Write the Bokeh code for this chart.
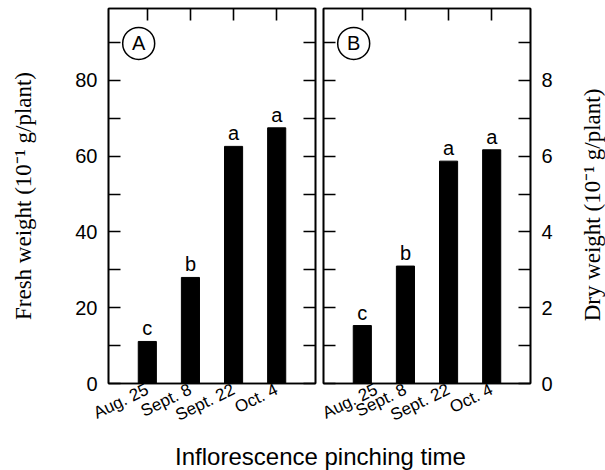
import math
from bokeh.plotting import figure
from bokeh.models import LinearAxis, FixedTicker, Range1d, ColumnDataSource, Label
from bokeh.layouts import column, row
from bokeh.embed import file_html
from bokeh.resources import INLINE
from bokeh.core.properties import value

# ---- data ----
dates = ["Aug. 25", "Sept. 8", "Sept. 22", "Oct. 4"]
fresh_weight = [11.1, 28.0, 62.6, 67.5]      # 10^-1 g/plant
dry_weight = [1.53, 3.10, 5.87, 6.17]        # 10^-1 g/plant
fresh_letters = ["c", "b", "a", "a"]
dry_letters = ["c", "b", "a", "a"]
fresh_ticks = [0, 10, 20, 30, 40, 50, 60, 70, 80, 90]
fresh_tick_labels = ["0", "", "20", "", "40", "", "60", "", "80", ""]
dry_ticks = [0, 1, 2, 3, 4, 5, 6, 7, 8, 9]
dry_tick_labels = ["0", "", "2", "", "4", "", "6", "", "8", ""]

SANS = "Liberation Sans"
SERIF = "Liberation Serif"
positions = [1, 2, 3, 4]
ROW_H = 8 + 375 + 47


def style_axis(ax, tick_in=12, labels=True):
    ax.axis_line_color = "black"
    ax.axis_line_width = 1.6
    ax.major_tick_line_color = "black"
    ax.major_tick_line_width = 1.6
    ax.major_tick_in = tick_in
    ax.major_tick_out = 0
    ax.minor_tick_line_color = None
    ax.major_label_text_font = SANS
    ax.major_label_text_color = "black"
    if not labels:
        ax.major_label_text_font_size = "1px"
        ax.major_label_standoff = 0


def make_panel(values, letters, ymax, ticks, tick_labels, side, ylabel, panel_letter,
               ml, mr):
    p = figure(frame_width=207, frame_height=375,
               x_range=Range1d(0.1, 4.9), y_range=Range1d(0, ymax),
               x_axis_location=None, y_axis_location=None,
               min_border_left=ml, min_border_right=mr,
               min_border_top=8, min_border_bottom=47,
               output_backend="svg", toolbar_location=None)
    p.grid.visible = False
    p.outline_line_color = "black"
    p.outline_line_width = 1.6
    p.background_fill_color = "white"
    p.border_fill_color = "white"

    src = ColumnDataSource(dict(x=positions, top=values, letter=letters))
    p.vbar(x="x", top="top", bottom=0, width=0.42, source=src,
           fill_color="black", line_color="black")
    p.text(x="x", y="top", text="letter", source=src, y_offset=-2,
           text_align="center", text_baseline="bottom",
           text_font=value(SANS), text_font_size="20px", text_color="black")

    # bottom categorical axis
    bx = LinearAxis(ticker=FixedTicker(ticks=positions),
                    major_label_overrides={pos: d for pos, d in zip(positions, dates)})
    style_axis(bx, tick_in=0)
    bx.major_label_orientation = 0.45
    bx.major_label_text_font_size = "17px"
    bx.major_label_standoff = 5
    p.add_layout(bx, "below")

    # top ticks
    tx = LinearAxis(ticker=FixedTicker(ticks=positions),
                    major_label_overrides={pos: "" for pos in positions})
    style_axis(tx, labels=False)
    p.add_layout(tx, "above")

    overrides = {t: l for t, l in zip(ticks, tick_labels)}
    lab_ax = LinearAxis(ticker=FixedTicker(ticks=ticks), major_label_overrides=overrides)
    style_axis(lab_ax)
    lab_ax.major_label_text_font_size = "20px"
    lab_ax.major_label_standoff = 11

    plain_ax = LinearAxis(ticker=FixedTicker(ticks=ticks),
                          major_label_overrides={t: "" for t in ticks})
    style_axis(plain_ax, labels=False)

    if side == "left":
        lab_ax.axis_label = ylabel
        lab_ax.axis_label_text_font = SERIF
        lab_ax.axis_label_text_font_size = "23px"
        lab_ax.axis_label_text_font_style = "normal"
        lab_ax.axis_label_text_color = "black"
        lab_ax.axis_label_standoff = 36
        p.add_layout(lab_ax, "left")
        p.add_layout(plain_ax, "right")
    else:
        p.add_layout(lab_ax, "right")
        p.add_layout(plain_ax, "left")

    # panel letter in a circle
    lx = 0.8
    ly = ymax * 0.907
    p.scatter(x=[lx], y=[ly], marker="circle", size=32, fill_color=None,
              line_color="black", line_width=1.5)
    p.add_layout(Label(x=lx, y=ly, text=panel_letter, text_align="center",
                       text_baseline="middle", text_font=SANS,
                       text_font_size="20px", text_color="black"))
    return p


pa = make_panel(fresh_weight, fresh_letters, 99, fresh_ticks, fresh_tick_labels,
                "left", "Fresh weight (10\u207b\u00b9 g/plant)", "A", 108, 4)
pb = make_panel(dry_weight, dry_letters, 9.9, dry_ticks, dry_tick_labels,
                "right", None, "B", 4, 45)

# right-hand title strip (reads bottom-to-top, like the left one)
side = figure(width=30, height=ROW_H, x_range=Range1d(0, 30), y_range=Range1d(0, ROW_H),
              x_axis_location=None, y_axis_location=None,
              min_border=0, output_backend="svg", toolbar_location=None)
side.grid.visible = False
side.outline_line_color = None
side.add_layout(Label(x=17, y=ROW_H - 229, text="Dry weight (10\u207b\u00b9 g/plant)",
                      angle=math.pi / 2, text_align="center", text_baseline="middle",
                      text_font=SERIF, text_font_size="23px", text_color="black"))

title = figure(width=605, height=40, x_range=Range1d(0, 605), y_range=Range1d(0, 40),
               x_axis_location=None, y_axis_location=None,
               min_border=0, output_backend="svg", toolbar_location=None)
title.grid.visible = False
title.outline_line_color = None
title.add_layout(Label(x=320, y=20, text="Inflorescence pinching time",
                       text_align="center", text_baseline="middle",
                       text_font=SANS, text_font_size="24px", text_color="black"))

layout = column(row(pa, pb, side), title)
open("out.html", "w").write(file_html(layout, INLINE))
